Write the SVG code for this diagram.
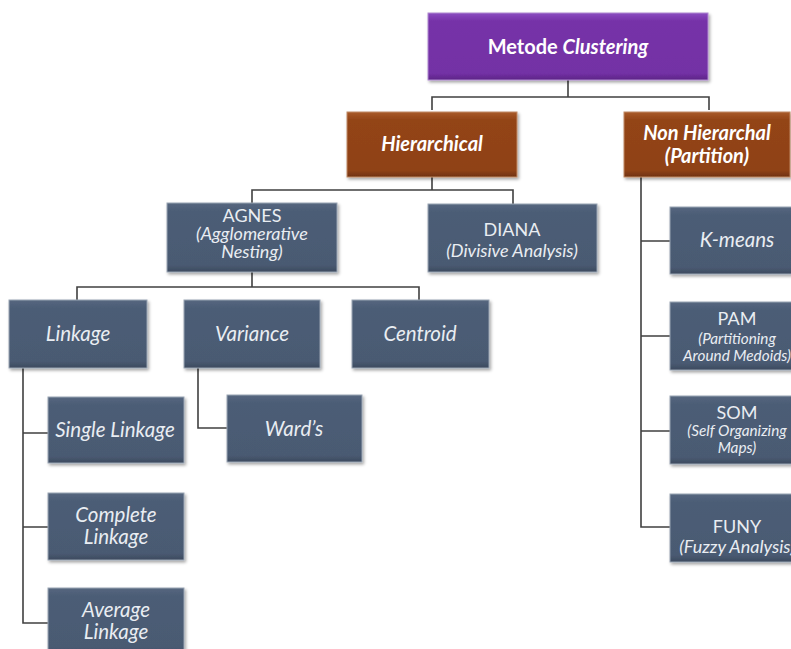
<svg xmlns="http://www.w3.org/2000/svg" width="791" height="649" viewBox="0 0 791 649">
<defs>
<linearGradient id="gBlue" x1="0" y1="0" x2="0" y2="1">
<stop offset="0" stop-color="#56677f"/><stop offset="0.12" stop-color="#4c5d76"/><stop offset="0.9" stop-color="#4a5a72"/><stop offset="1" stop-color="#3c4a5e"/>
</linearGradient>
<linearGradient id="gPurple" x1="0" y1="0" x2="0" y2="1">
<stop offset="0" stop-color="#8a4cc0"/><stop offset="0.12" stop-color="#7632a8"/><stop offset="0.9" stop-color="#7330a5"/><stop offset="1" stop-color="#5c2585"/>
</linearGradient>
<linearGradient id="gBrown" x1="0" y1="0" x2="0" y2="1">
<stop offset="0" stop-color="#a85a28"/><stop offset="0.12" stop-color="#934418"/><stop offset="0.9" stop-color="#8f4216"/><stop offset="1" stop-color="#6e3210"/>
</linearGradient>
<filter id="sh" x="-10%" y="-10%" width="130%" height="140%">
<feDropShadow dx="1.5" dy="2" stdDeviation="1.5" flood-color="#000" flood-opacity="0.35"/>
</filter>
</defs>
<style>
.b{fill:url(#gBlue);stroke:#9aa5b3;stroke-width:1;filter:url(#sh)}
.p{fill:url(#gPurple);stroke:#b08ad0;stroke-width:1;filter:url(#sh)}
.r{fill:url(#gBrown);stroke:#c08a66;stroke-width:1;filter:url(#sh)}
text{font-family:Lato,"Open Sans","Liberation Sans",sans-serif;fill:#e9edf2;text-anchor:middle}
.i{font-style:italic;font-size:20.5px}
.n{font-size:18px}
.s{font-style:italic;font-size:15.3px}
.m{font-style:italic;font-size:18px}
.h{font-weight:bold;font-style:italic;font-size:20px;fill:#ffffff}
.t{font-weight:bold;font-size:20px;fill:#ffffff}
.c{fill:none;stroke:#404040;stroke-width:1.6}
</style>
<g id="connectors" class="c">
<path d="M568,80 V97 M432,110 V97 H709 V110"/>
<path d="M432,177 V190 M252,203 V190 H513 V204"/>
<path d="M252,272 V287 M77,300 V287 H419 V300"/>
<path d="M23,368 V623 H48 M23,433 H48 M23,527 H48"/>
<path d="M198,368 V428 H227"/>
<path d="M641,177 V527 H670 M641,241 H670 M641,336 H670 M641,431 H670"/>
</g>
<g id="metode"><rect class="p" x="428" y="13" width="280" height="67"/><text class="t" x="568" y="54">Metode <tspan font-style="italic">Clustering</tspan></text></g>
<g id="hierarchical"><rect class="r" x="347" y="112" width="170" height="65"/><text class="h" x="432" y="151">Hierarchical</text></g>
<g id="nonhierarchal"><rect class="r" x="624" y="112" width="166" height="65"/><text class="h" x="707" y="140">Non Hierarchal</text><text class="h" x="707" y="163">(Partition)</text></g>
<g id="agnes"><rect class="b" x="167" y="203" width="170" height="69"/><text class="n" x="252" y="222" font-size="17">AGNES</text><text class="m" x="252" y="240">(Agglomerative</text><text class="m" x="252" y="258">Nesting)</text></g>
<g id="diana"><rect class="b" x="428" y="204" width="169" height="68"/><text class="n" x="512" y="236">DIANA</text><text class="m" x="512" y="257" font-size="17.5">(Divisive Analysis)</text></g>
<g id="linkage"><rect class="b" x="9" y="300" width="138" height="68"/><text class="i" x="78" y="341">Linkage</text></g>
<g id="variance"><rect class="b" x="184" y="300" width="136" height="68"/><text class="i" x="252" y="341">Variance</text></g>
<g id="centroid"><rect class="b" x="352" y="300" width="137" height="68"/><text class="i" x="420" y="341">Centroid</text></g>
<g id="single"><rect class="b" x="48" y="397" width="136" height="66"/><text class="i" x="115" y="437">Single Linkage</text></g>
<g id="wards"><rect class="b" x="227" y="395" width="135" height="67"/><text class="i" x="294" y="436">Ward’s</text></g>
<g id="complete"><rect class="b" x="48" y="493" width="136" height="67"/><text class="i" x="116" y="522">Complete</text><text class="i" x="116" y="544">Linkage</text></g>
<g id="average"><rect class="b" x="48" y="588" width="136" height="66"/><text class="i" x="116" y="617">Average</text><text class="i" x="116" y="639">Linkage</text></g>
<g id="kmeans"><rect class="b" x="670" y="207" width="135" height="67"/><text class="i" x="737" y="247">K-means</text></g>
<g id="pam"><rect class="b" x="670" y="302" width="135" height="68"/><text class="n" x="737" y="325">PAM</text><text class="s" x="737" y="344">(Partitioning</text><text class="s" x="737" y="361">Around Medoids)</text></g>
<g id="som"><rect class="b" x="670" y="396" width="135" height="68"/><text class="n" x="737" y="419">SOM</text><text class="s" x="737" y="436">(Self Organizing</text><text class="s" x="737" y="453">Maps)</text></g>
<g id="funy"><rect class="b" x="670" y="494" width="135" height="68"/><text class="n" x="737" y="533">FUNY</text><text class="m" x="737" y="553">(Fuzzy Analysis)</text></g>
</svg>
